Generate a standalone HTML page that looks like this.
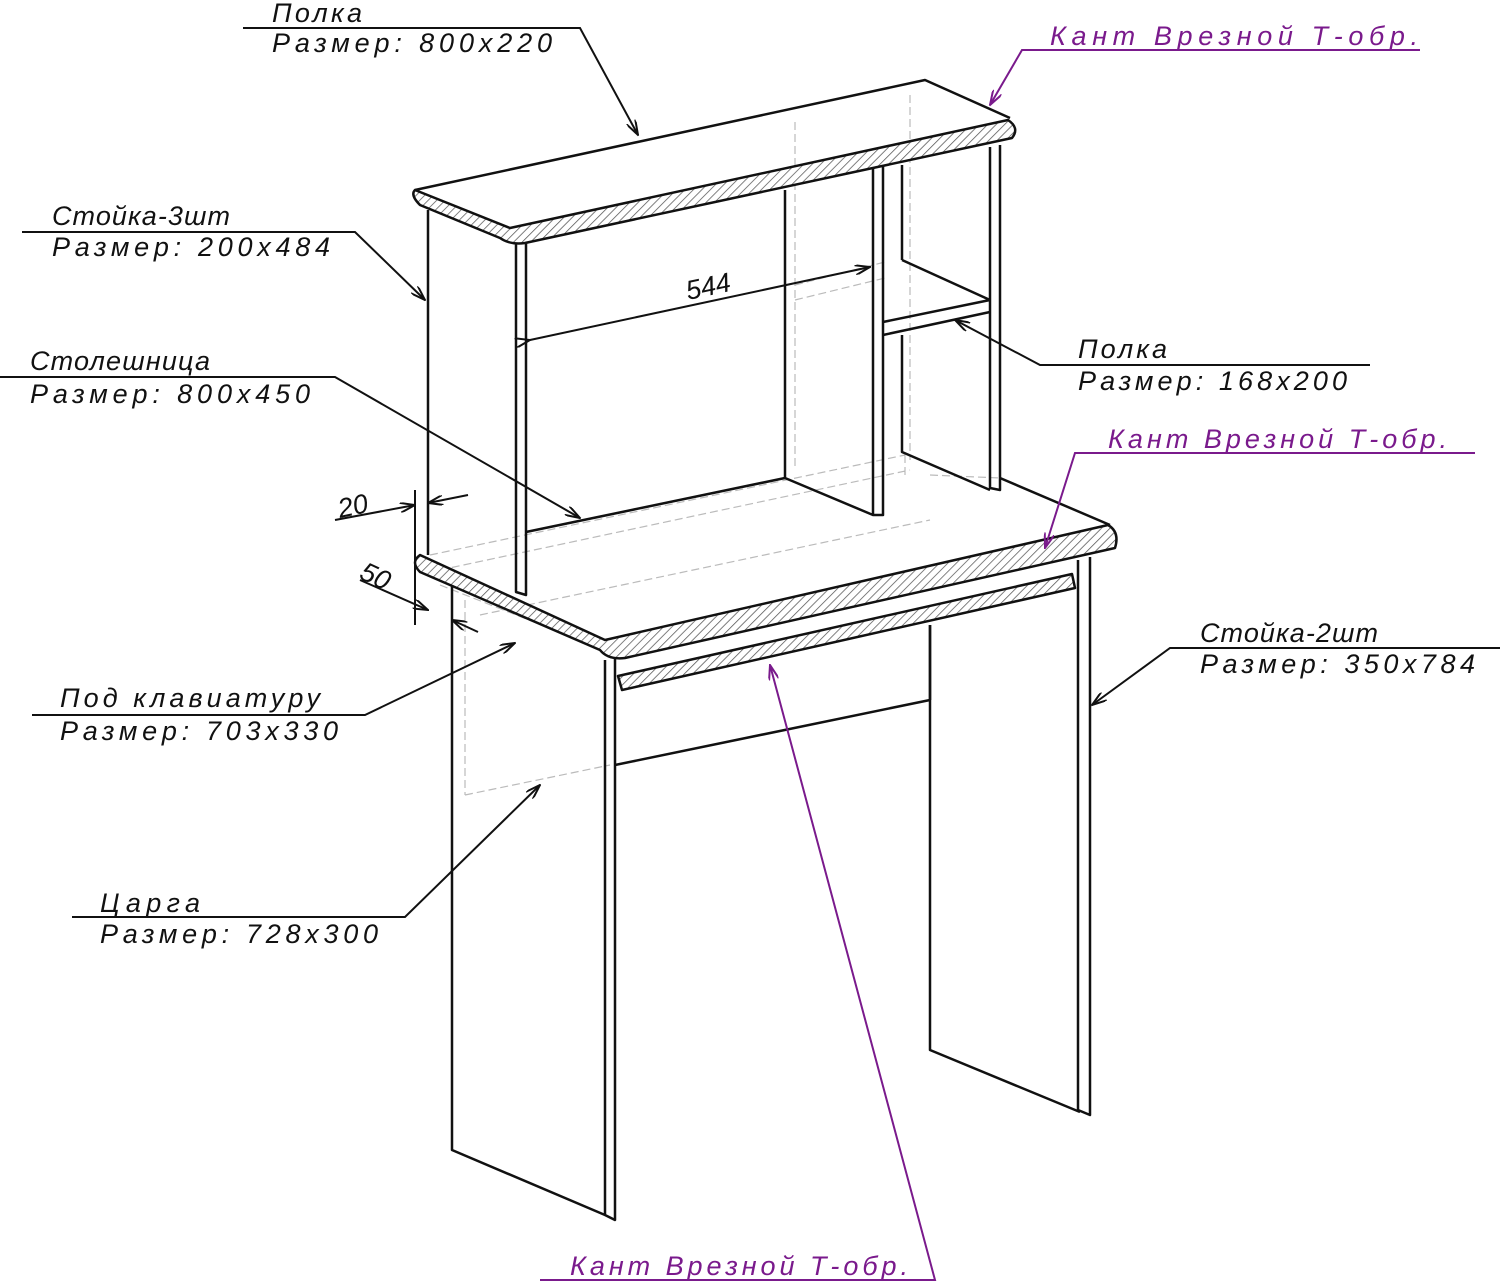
<!DOCTYPE html>
<html><head><meta charset="utf-8"><style>
html,body{margin:0;padding:0;background:#fff;}
svg{display:block;}
text{font-family:"Liberation Sans",sans-serif;font-style:italic;font-size:27px;fill:#111;}
.p{fill:#7a1a8c;}
</style></head><body>
<svg width="1500" height="1283" viewBox="0 0 1500 1283" xmlns="http://www.w3.org/2000/svg">
<defs>
<pattern id="h" width="6" height="6" patternUnits="userSpaceOnUse" patternTransform="rotate(45)"><rect width="6" height="6" fill="#fff"/><line x1="0" y1="0" x2="0" y2="6" stroke="#555" stroke-width="1.5"/></pattern>
<marker id="a" markerWidth="16" markerHeight="10" refX="15" refY="5" orient="auto" markerUnits="userSpaceOnUse"><path d="M0,0 L15,5 L0,10" fill="none" stroke="#111" stroke-width="2"/></marker>
<marker id="ap" markerWidth="16" markerHeight="10" refX="15" refY="5" orient="auto" markerUnits="userSpaceOnUse"><path d="M0,0 L15,5 L0,10" fill="none" stroke="#7a1a8c" stroke-width="2"/></marker>
</defs>
<g stroke="#bbb" stroke-width="1.2" fill="none" stroke-dasharray="8,4">
<path d="M795,122 L795,470 M910,95 L910,460 M795,285 L885,262 M795,300 L885,278 M430,555 L905,455 M440,570 L910,470 M905,455 L905,475 M465,600 L465,795 M465,795 L610,765 M480,615 L930,520 M930,475 L1000,478 M440,585 L605,650"/>
</g>
<g stroke="#111" stroke-width="2.5" fill="none" stroke-linejoin="round">
<path d="M415,190 L925,80 L1010,118"/>
<path d="M510,228 L1008,120 Q1020,128 1012,138 L525,243 Q510,245 500,238 L420,205 Q410,195 415,190 Z" fill="url(#h)"/>
<path d="M428,210 L428,555 M516,243 L516,592 L526,595 L526,243"/>
<path d="M785,190 L785,478 L873,515 M873,168 L873,515 L883,515 L883,165"/>
<path d="M902,165 L902,260 M902,335 L902,452 L990,490"/>
<path d="M990,147 L990,488 L1000,490 L1000,145"/>
<path d="M902,260 L990,300 M883,322 L990,300 M883,335 L990,312"/>
<path d="M526,532 L785,478 M1000,478 L1110,525"/>
<path d="M420,555 L605,640 L1108,525 Q1120,532 1115,548 L625,658 Q608,660 600,650 L420,572 Q410,562 420,555 Z" fill="url(#h)"/>
<path d="M618,676 L1072,574 L1075,588 L622,690 Z" fill="url(#h)"/>
<path d="M605,660 L605,1215 L615,1220 L615,658"/>
<path d="M452,585 L452,1150 L605,1215"/>
<path d="M1078,560 L1078,1110 L1090,1115 L1090,557"/>
<path d="M930,625 L930,1050 L1080,1112"/>
<path d="M615,765 L930,700 M930,625 L930,700"/>
</g>
<g stroke="#111" stroke-width="2" fill="none">
<path d="M530,340 L870,267" marker-start="url(#a)" marker-end="url(#a)"/>
<path d="M415,490 L415,625"/>
<path d="M335,520 L415,505" marker-end="url(#a)"/><path d="M468,495 L428,503" marker-end="url(#a)"/>
<path d="M360,580 L428,610" marker-end="url(#a)"/><path d="M478,632 L452,620" marker-end="url(#a)"/>
</g>
<text x="688" y="300" transform="rotate(-12 688 300)">544</text>
<text x="340" y="518" transform="rotate(-12 340 518)" font-size="24">20</text>
<text x="358" y="578" transform="rotate(25 358 578)" font-size="24">50</text>
<g stroke="#111" stroke-width="2" fill="none">
<path d="M243,28 L580,28 L638,135" marker-end="url(#a)"/>
<path d="M22,232 L355,232 L425,300" marker-end="url(#a)"/>
<path d="M0,377 L335,377 L580,518" marker-end="url(#a)"/>
<path d="M1370,365 L1040,365 L955,320" marker-end="url(#a)"/>
<path d="M1500,648 L1170,648 L1092,705" marker-end="url(#a)"/>
<path d="M32,715 L365,715 L515,643" marker-end="url(#a)"/>
<path d="M72,917 L405,917 L540,785" marker-end="url(#a)"/>
</g>
<g stroke="#7a1a8c" stroke-width="2" fill="none">
<path d="M1420,50 L1022,50 L990,105" marker-end="url(#ap)"/>
<path d="M1475,453 L1075,453 L1045,548" marker-end="url(#ap)"/>
<path d="M540,1280 L935,1280 L770,665" marker-end="url(#ap)"/>
</g>
<text x="272" y="22" textLength="90">Полка</text><text x="272" y="52" textLength="280">Размер: 800x220</text>
<text class="p" x="1050" y="45" textLength="368">Кант Врезной Т-обр.</text>
<text x="52" y="225" textLength="178">Стойка-3шт</text><text x="52" y="256" textLength="278">Размер: 200x484</text>
<text x="30" y="370" textLength="180">Столешница</text><text x="30" y="403" textLength="280">Размер: 800x450</text>
<text x="1078" y="358" textLength="89">Полка</text><text x="1078" y="390" textLength="269">Размер: 168x200</text>
<text class="p" x="1108" y="448" textLength="339">Кант Врезной Т-обр.</text>
<text x="1200" y="642" textLength="178">Стойка-2шт</text><text x="1200" y="673" textLength="275">Размер: 350x784</text>
<text x="60" y="707" textLength="260">Под клавиатуру</text><text x="60" y="740" textLength="278">Размер: 703x330</text>
<text x="100" y="912" textLength="100">Царга</text><text x="100" y="943" textLength="278">Размер: 728x300</text>
<text class="p" x="570" y="1275" textLength="338">Кант Врезной Т-обр.</text>
</svg>
</body></html>
